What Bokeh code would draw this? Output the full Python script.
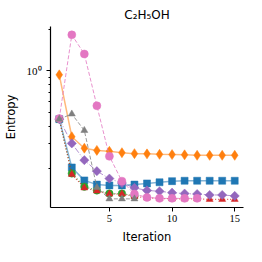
import math
from bokeh.plotting import figure
from bokeh.models import Range1d, FixedTicker, ColumnDataSource
from bokeh.embed import file_html
from bokeh.resources import INLINE

# ---- data ----
iters = list(range(1, 16))
blue_vals = [0.45, 0.202, 0.163, 0.152, 0.150, 0.150, 0.152, 0.155, 0.158, 0.161, 0.162, 0.162, 0.162, 0.162, 0.162]
orange_vals = [0.938, 0.336, 0.278, 0.268, 0.264, 0.258, 0.254, 0.253, 0.251, 0.250, 0.249, 0.247, 0.247, 0.247, 0.247]
green_vals = [0.45, 0.183, 0.147, 0.138, 0.131, 0.131, 0.126]
red_vals = [0.45, 0.180, 0.144, 0.137, 0.130, 0.130, 0.125, 0.122, 0.121, 0.120, 0.120, 0.120, 0.119, 0.119, 0.119]
purple_vals = [0.45, 0.301, 0.228, 0.190, 0.168, 0.156, 0.144, 0.138, 0.136, 0.133, 0.131, 0.130, 0.128, 0.128, 0.126]
pink_vals = [0.454, 1.82, 1.325, 0.562, 0.243, 0.161, 0.130, 0.123, 0.121, 0.121, 0.121, 0.121]
gray_vals = [0.45, 0.49, 0.373, 0.145, 0.120, 0.120, 0.120]

x_ticks = [5, 10, 15]
y_major = [1.0]
y_minor = [0.2, 0.3, 0.4, 0.5, 0.6, 0.7, 0.8, 0.9, 2.0]

series = [
    # values, color, marker, size, angle, dash, line width, line alpha
    (blue_vals, "#1f77b4", "square", 7, 0.0, "solid", 1.5, 0.55),
    (orange_vals, "#ff7f0e", "diamond", 10, 0.0, "solid", 1.5, 0.55),
    (green_vals, "#2ca02c", "circle", 7.5, 0.0, "1 2", 1.2, 0.8),
    (red_vals, "#d62728", "triangle", 7, 0.0, "1 2", 1.2, 0.8),
    (purple_vals, "#9467bd", "square", 6.5, math.pi / 4, "6 2 1 2", 1.0, 0.7),
    (pink_vals, "#e377c2", "circle", 8, 0.0, "4 2", 1.0, 0.8),
    (gray_vals, "#7f7f7f", "triangle", 7, 0.0, "4 2", 1.0, 0.8),
]

W, H = 250, 250
p = figure(width=W, height=H, output_backend="svg", toolbar_location=None,
           y_axis_type="log",
           x_range=Range1d(0.3, 15.7), y_range=Range1d(0.104, 2.09),
           min_border_left=46, min_border_right=7, min_border_top=19, min_border_bottom=43)

p.title.text = "C₂H₅OH"
p.title.align = "center"
p.title.text_font = "DejaVu Sans"
p.title.text_font_size = "12px"
p.title.text_font_style = "normal"
p.title.text_color = "black"

p.outline_line_color = None
p.xgrid.visible = False
p.ygrid.visible = False
p.background_fill_color = "white"
p.border_fill_color = "white"

for vals, color, marker, size, angle, dash, lw, la in series:
    src = ColumnDataSource(dict(x=iters[:len(vals)], y=vals))
    p.line("x", "y", source=src, line_color=color, line_width=lw, line_alpha=la, line_dash=dash)
    p.scatter("x", "y", source=src, marker=marker, size=size, angle=angle,
              fill_color=color, line_color=color, line_alpha=0.5, line_width=1)

for ax in (p.xaxis[0], p.yaxis[0]):
    ax.axis_label_text_color = "black"
    ax.major_label_text_color = "black"
    ax.axis_line_color = "black"
    ax.major_tick_line_color = "black"
    ax.minor_tick_line_color = "black"
    ax.axis_label_text_font = "DejaVu Sans"
    ax.axis_label_text_font_size = "11.5px"
    ax.axis_label_text_font_style = "normal"
    ax.major_label_text_font = "Liberation Serif"
    ax.major_tick_out = 4
    ax.major_tick_in = 0
    ax.axis_line_width = 1.2

# x axis
xa = p.xaxis[0]
xa.ticker = FixedTicker(ticks=x_ticks, minor_ticks=[])
xa.axis_label = "Iteration"
xa.axis_label_standoff = 5
xa.major_label_text_font_size = "10.5px"
xa.major_label_standoff = 3

# y axis
ya = p.yaxis[0]
ya.ticker = FixedTicker(ticks=y_major, minor_ticks=y_minor)
ya.major_label_overrides = {1: "10⁰"}
ya.axis_label = "Entropy"
ya.axis_label_standoff = 6
ya.major_label_text_font_size = "11px"
ya.major_label_standoff = 5
ya.minor_tick_out = 2
ya.minor_tick_in = 0

open("out.html", "w").write(file_html(p, INLINE))
